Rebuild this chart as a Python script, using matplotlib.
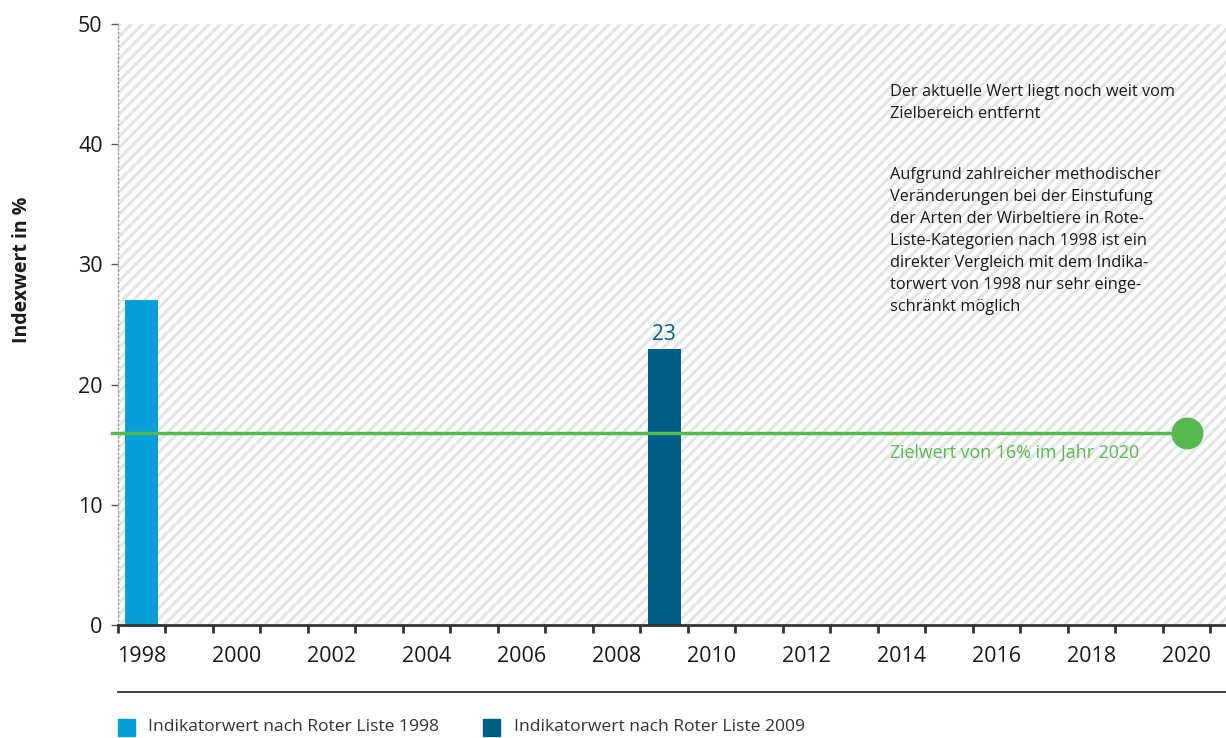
import matplotlib
matplotlib.use("Agg")
import matplotlib.pyplot as plt
from matplotlib.patches import Rectangle
from matplotlib.lines import Line2D

# Daten
jahre_rl1998 = [1998]
werte_rl1998 = [27]
jahre_rl2009 = [2009]
werte_rl2009 = [23]
zieljahr = 2020
zielwert = 16
label_jahre = list(range(1998, 2021, 2))

BLAU_HELL = "#089fda"
BLAU_DUNKEL = "#005d86"
GRUEN = "#56b94f"
TEXT = "#1a1a1a"

plt.rcParams["font.family"] = ["Open Sans", "DejaVu Sans"]
plt.rcParams["hatch.linewidth"] = 2.2

fig = plt.figure(figsize=(12.26, 7.38), dpi=100)
ax = fig.add_axes([118 / 1226, 1 - 625 / 738, 1 - 118 / 1226, 601 / 738])

# Hintergrund schraffiert
ax.add_patch(Rectangle((0, 0), 1, 1, transform=ax.transAxes, facecolor="white",
                       edgecolor="#e3e4e6", hatch="///", linewidth=0, zorder=0))

ax.bar(jahre_rl1998, werte_rl1998, width=0.69, color=BLAU_HELL, zorder=2)
ax.bar(jahre_rl2009, werte_rl2009, width=0.69, color=BLAU_DUNKEL, zorder=2)
for x, v in zip(jahre_rl2009, werte_rl2009):
    ax.text(x, v + 0.3, str(v), ha="center", va="bottom", fontsize=15,
            color=BLAU_DUNKEL, zorder=3)

# Zielwert
ax.plot([1997.37, zieljahr], [zielwert, zielwert], color=GRUEN, lw=2.5,
        zorder=3, clip_on=False)
ax.plot([zieljahr], [zielwert], "o", color=GRUEN, markersize=22, zorder=4,
        clip_on=False)
ax.text(2013.75, zielwert - 1.7, "Zielwert von 16% im Jahr 2020", color=GRUEN,
        fontsize=12.8, va="center", ha="left")

ax.text(2013.75, 45.0,
        "Der aktuelle Wert liegt noch weit vom\nZielbereich entfernt",
        fontsize=11.8, va="top", ha="left", color=TEXT, linespacing=1.5)
ax.text(2013.75, 38.1,
        "Aufgrund zahlreicher methodischer\nVeränderungen bei der Einstufung\n"
        "der Arten der Wirbeltiere in Rote-\nListe-Kategorien nach 1998 ist ein\n"
        "direkter Vergleich mit dem Indika-\ntorwert von 1998 nur sehr einge-\n"
        "schränkt möglich",
        fontsize=11.8, va="top", ha="left", color=TEXT, linespacing=1.5)

ax.set_xlim(1997.5, 2020.83)
ax.set_ylim(0, 50)

# Achsen
ax.set_xticks([j - 0.5 for j in range(1998, 2022)])
ax.set_xticklabels([])
ax.set_xticks(label_jahre, minor=True)
ax.set_xticklabels([str(j) for j in label_jahre], minor=True)
ax.tick_params(axis="x", which="major", length=6, width=2, color="#333333",
               direction="out")
ax.tick_params(axis="x", which="minor", length=0, pad=15, labelsize=15.5,
               labelcolor=TEXT)
ax.set_yticks([0, 10, 20, 30, 40, 50])
ax.tick_params(axis="y", length=5, width=1, color="#555555", pad=6,
               labelsize=15.5, labelcolor=TEXT)

for s in ["top", "right"]:
    ax.spines[s].set_visible(False)
ax.spines["bottom"].set_linewidth(2)
ax.spines["bottom"].set_color("#333333")
ax.spines["left"].set_linestyle((0, (1, 2)))
ax.spines["left"].set_color("#999999")
ax.spines["left"].set_linewidth(1)

fig.text(22 / 1226, 1 - 270 / 738, "Indexwert in %", rotation=90, ha="center",
         va="center", fontsize=14, fontweight="bold", color=TEXT)

# Trennlinie und Legende
fig.add_artist(Line2D([118 / 1226, 1], [1 - 692 / 738, 1 - 692 / 738],
                      color="#333333", lw=1.3))
fig.add_artist(Rectangle((118 / 1226, 1 - 736 / 738), 17 / 1226, 17 / 738,
                         color=BLAU_HELL, transform=fig.transFigure))
fig.text(148 / 1226, 1 - 727 / 738, "Indikatorwert nach Roter Liste 1998",
         va="center", ha="left", fontsize=12.6, color="#333333")
fig.add_artist(Rectangle((483 / 1226, 1 - 736 / 738), 17 / 1226, 17 / 738,
                         color=BLAU_DUNKEL, transform=fig.transFigure))
fig.text(514 / 1226, 1 - 727 / 738, "Indikatorwert nach Roter Liste 2009",
         va="center", ha="left", fontsize=12.6, color="#333333")

fig.savefig("out.png", dpi=100)
